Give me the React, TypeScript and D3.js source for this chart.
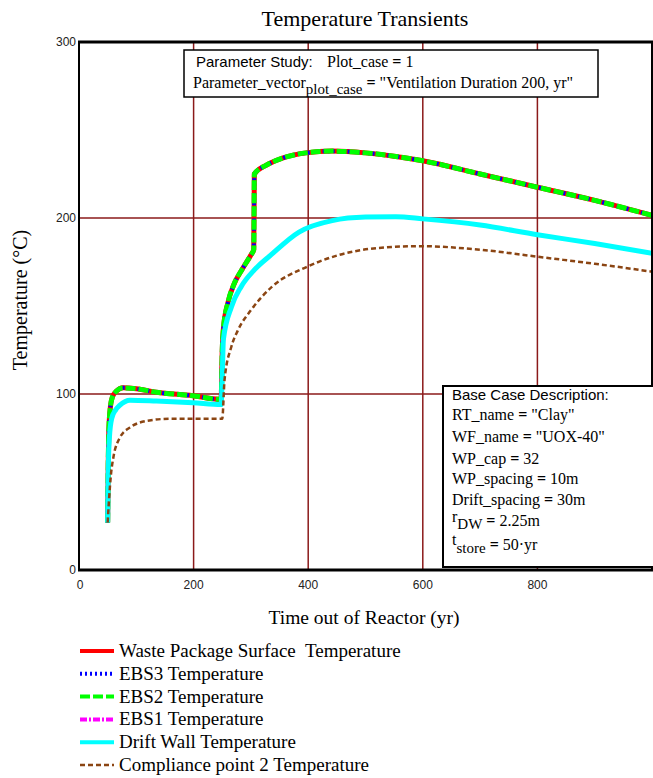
import React from 'react';
import * as d3 from 'd3';

// time (yr) and temperature (C)
const wpTime = [50, 51, 52, 54, 58, 65, 77, 100, 135, 199, 245, 248, 250, 252, 260, 270, 285, 300, 305, 306, 327, 355, 396, 442, 500, 553, 600, 700, 800, 900, 1000];
const wpTemp = [27, 60, 78, 90, 98, 101.5, 103.5, 103, 101, 99, 97, 97, 125, 137, 152, 162, 171, 179, 182, 225, 230, 234, 237, 238, 237, 235, 232.5, 225, 217.5, 210, 201.5];
const ebs3Temp = [27, 60, 78, 90, 98, 101.5, 103.5, 103, 101, 99, 97, 97, 125, 137, 152, 162, 171, 179, 182, 225, 230, 234, 237, 238, 237, 235, 232.5, 225, 217.5, 210, 201.5];
const ebs2Temp = [27, 60, 78, 90, 98, 101.5, 103.5, 103, 101, 99, 97, 97, 125, 137, 152, 162, 171, 179, 182, 225, 230, 234, 237, 238, 237, 235, 232.5, 225, 217.5, 210, 201.5];
const ebs1Temp = [27, 60, 78, 90, 98, 101.5, 103.5, 103, 101, 99, 97, 97, 125, 137, 152, 162, 171, 179, 182, 225, 230, 234, 237, 238, 237, 235, 232.5, 225, 217.5, 210, 201.5];

const dwTime = [50, 51, 53, 57, 64, 71, 89, 135, 199, 248, 250, 252, 266, 283, 306, 335, 384, 442, 500, 553, 600, 700, 800, 900, 1000];
const dwTemp = [27, 55, 75, 86, 91, 93.5, 96.5, 96, 95, 94, 110, 131, 149.5, 161, 170.5, 179, 192, 198.5, 200.5, 200.7, 199.5, 196, 190.5, 185.5, 180];

const cpTime = [50, 52, 56, 60, 71, 89, 123, 164, 245, 250, 254, 266, 277, 301, 337, 396, 454, 523, 593, 700, 800, 900, 1000];
const cpTemp = [27, 38, 55, 64, 75, 81, 85, 86, 86, 86, 108, 127, 136, 148, 161, 172, 179, 183, 184, 182, 178, 174, 169.5];

const xTicks = [0, 200, 400, 600, 800];
const yTicks = [0, 100, 200, 300];

const series = [
  { name: 'EBS1 Temperature', t: wpTime, v: ebs1Temp, color: '#ff00ff', width: 4, dash: '7,2,2,2', legendRow: 3 },
  { name: 'Waste Package Surface  Temperature', t: wpTime, v: wpTemp, color: '#ff0000', width: 5, dash: null, legendRow: 0 },
  { name: 'EBS3 Temperature', t: wpTime, v: ebs3Temp, color: '#0000ff', width: 4, dash: '2,3', legendRow: 1 },
  { name: 'EBS2 Temperature', t: wpTime, v: ebs2Temp, color: '#00ff00', width: 5, dash: '10,3', legendRow: 2 },
  { name: 'Drift Wall Temperature', t: dwTime, v: dwTemp, color: '#00ffff', width: 5, dash: null, legendRow: 4 },
  { name: 'Compliance point 2 Temperature', t: cpTime, v: cpTemp, color: '#8b4513', width: 2.5, dash: '5,3', legendRow: 5 },
];

const x = d3.scaleLinear().domain([0, 1000]).range([79, 652]);
const y = d3.scaleLinear().domain([0, 300]).range([570, 42]);

const serif = 'Liberation Serif, serif';
const sans = 'Liberation Sans, Arial, sans-serif';
const gridColor = '#8b1a1a';

export default function App() {
  const line = d3.line<[number, number]>()
    .x(d => x(d[0]))
    .y(d => y(d[1]))
    .curve(d3.curveMonotoneX);

  const legendRows = [...series].sort((a, b) => a.legendRow - b.legendRow);

  const eq = <tspan fontWeight="bold">=</tspan>;

  return (
    <svg width={653} height={778} style={{ position: 'absolute', left: 0, top: 0, background: '#fff' }}>
      <defs>
        <clipPath id="plot">
          <rect x={x(0)} y={y(300)} width={x(1000) - x(0)} height={y(0) - y(300)} />
        </clipPath>
      </defs>

      <text x={365} y={26} textAnchor="middle" fontFamily={serif} fontSize={22}>Temperature Transients</text>

      {/* grid */}
      {xTicks.filter(t => t > 0).map(t => (
        <line key={'gx' + t} x1={x(t)} x2={x(t)} y1={y(0)} y2={y(300)} stroke={gridColor} strokeWidth={1.5} />
      ))}
      {yTicks.filter(t => t > 0 && t < 300).map(t => (
        <line key={'gy' + t} x1={x(0)} x2={x(1000)} y1={y(t)} y2={y(t)} stroke={gridColor} strokeWidth={1.5} />
      ))}

      {/* curves */}
      <g clipPath="url(#plot)">
        {series.map(s => (
          <path key={s.name} d={line(s.t.map((t, i) => [t, s.v[i]] as [number, number])) || ''}
            fill="none" stroke={s.color} strokeWidth={s.width} strokeDasharray={s.dash || undefined} />
        ))}
      </g>

      {/* frame */}
      <line x1={x(0)} x2={x(0)} y1={y(0)} y2={y(300)} stroke="#000" strokeWidth={2} />
      <line x1={x(1000)} x2={x(1000)} y1={y(0)} y2={y(300)} stroke="#000" strokeWidth={2} />
      <line x1={x(0) - 1} x2={x(1000) + 1} y1={y(300)} y2={y(300)} stroke="#000" strokeWidth={3} />
      <line x1={x(0) - 1} x2={x(1000) + 1} y1={y(0)} y2={y(0)} stroke="#000" strokeWidth={3} />

      {/* tick labels */}
      {yTicks.map(t => (
        <text key={'ty' + t} x={x(0) - 3} y={y(t) + 4} textAnchor="end" fontFamily={sans} fontSize={12} fill="#222">{t}</text>
      ))}
      {xTicks.map(t => (
        <text key={'tx' + t} x={x(t) + (t === 0 ? 1 : 0)} y={589} textAnchor="middle" fontFamily={sans} fontSize={12} fill="#222">{t}</text>
      ))}

      <text x={364} y={624} textAnchor="middle" fontFamily={serif} fontSize={19.5}>Time out of Reactor (yr)</text>
      <text transform="translate(27,300) rotate(-90)" textAnchor="middle" fontFamily={serif} fontSize={20}>Temperature (°C)</text>

      {/* parameter box */}
      <rect x={184} y={50} width={414} height={47} fill="#fff" stroke="#000" strokeWidth={1.5} />
      <text x={196} y={67} fontFamily={sans} fontSize={15}>Parameter Study:</text>
      <text x={327} y={67} fontFamily={serif} fontSize={16}>Plot_case {eq} 1</text>
      <text x={193} y={88} fontFamily={serif} fontSize={16}>
        Parameter_vector<tspan fontSize={15} dy={6}>plot_case</tspan>
        <tspan dy={-6}> {eq} "Ventilation Duration 200, yr"</tspan>
      </text>

      {/* base case box */}
      <rect x={443} y={386} width={220} height={181} fill="#fff" stroke="#000" strokeWidth={2} />
      <text x={452} y={400} fontFamily={sans} fontSize={15}>Base Case Description:</text>
      {[
        ['RT_name', '"Clay"', 420],
        ['WF_name', '"UOX-40"', 442],
        ['WP_cap', '32', 464],
        ['WP_spacing', '10m', 484],
        ['Drift_spacing', '30m', 505],
      ].map(([k, v, yy]) => (
        <text key={k as string} x={452} y={yy as number} fontFamily={serif} fontSize={16}>
          {k} {eq} {v}
        </text>
      ))}
      <text x={452} y={522} fontFamily={serif} fontSize={16}>
        r<tspan dy={7} fontSize={15}>DW</tspan><tspan dy={-3}> {eq} 2.25m</tspan>
      </text>
      <text x={452} y={545} fontFamily={serif} fontSize={16}>
        t<tspan dy={8} fontSize={15}>store</tspan><tspan dy={-3}> {eq} 50·yr</tspan>
      </text>

      {/* legend */}
      {legendRows.map((s, i) => (
        <g key={'lg' + s.name} transform={`translate(0,${651 + i * 22.8})`}>
          <line x1={80} x2={114} y1={0} y2={0} stroke={s.color} strokeWidth={s.width === 2.5 ? 2.5 : 4}
            strokeDasharray={s.dash || undefined} />
          <text x={119} y={6} fontFamily={serif} fontSize={19} style={{ whiteSpace: 'pre' }}>{s.name}</text>
        </g>
      ))}
    </svg>
  );
}
